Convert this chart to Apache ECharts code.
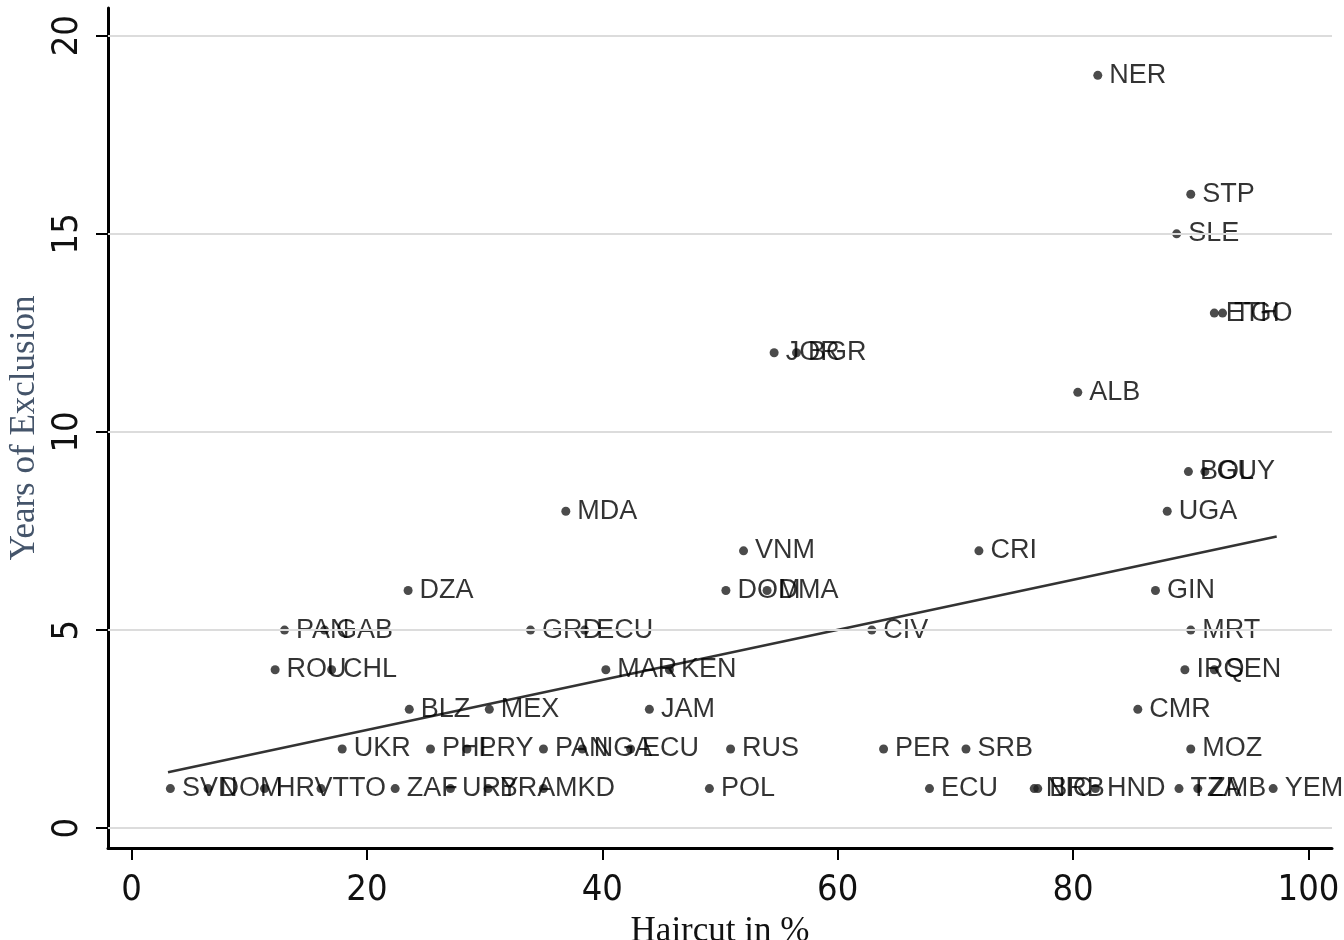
<!DOCTYPE html>
<html>
<head>
<meta charset="utf-8">
<style>html,body{margin:0;padding:0;background:#fff}#c{width:1344px;height:940px}</style>
<script src="https://cdn.jsdelivr.net/npm/echarts@6/dist/echarts.min.js"></script>
</head>
<body>
<div id="c"></div>
<script>
const countries = ['NER','STP','SLE','ETH','TGO','JOR','BGR','ALB','BOL','GUY','MDA','UGA','VNM','CRI','DZA','DOM','DMA','GIN','PAN','GAB','GRD','ECU','CIV','MRT','ROU','CHL','MAR','KEN','IRQ','SEN','BLZ','MEX','JAM','CMR','UKR','PHL','PRY','PAN','NGA','ECU','RUS','PER','SRB','MOZ','SVN','DOM','HRV','TTO','ZAF','URY','BRA','MKD','POL','ECU','NIC','BRB','HND','TZA','ZMB','YEM'];
const haircut = [82.1,90.0,88.8,92.0,92.7,54.6,56.5,80.4,89.8,91.2,36.9,88.0,52.0,72.0,23.5,50.5,54.0,87.0,13.0,16.4,33.9,38.5,62.9,90.0,12.2,17.0,40.3,45.7,89.5,92.0,23.6,30.4,44.0,85.5,17.9,25.4,28.5,35.0,38.3,42.4,50.9,63.9,70.9,90.0,3.3,6.5,11.3,16.1,22.4,27.1,30.3,35.0,49.1,67.8,76.7,77.0,81.9,89.0,90.6,97.0];
const years = [19,16,15,13,13,12,12,11,9,9,8,8,7,7,6,6,6,6,5,5,5,5,5,5,4,4,4,4,4,4,3,3,3,3,2,2,2,2,2,2,2,2,2,2,1,1,1,1,1,1,1,1,1,1,1,1,1,1,1,1];
const fitLine = [[3.1, 1.41], [97.3, 7.36]];
const xTicks = [0, 20, 40, 60, 80, 100];
const yTicks = [0, 5, 10, 15, 20];

const points = countries.map((n, i) => ({ name: n, value: [haircut[i], years[i]] }));
const tickFont = "'Liberation Sans Narrow','DejaVu Sans Condensed','Liberation Sans',Arial,sans-serif";
const titleFont = "'Liberation Serif','Times New Roman',serif";

const chart = echarts.init(document.getElementById('c'), null, { renderer: 'canvas' });
chart.setOption({
  animation: false,
  backgroundColor: '#fff',
  grid: { left: 108, right: 12, top: 8, bottom: 92, containLabel: false, outerBoundsMode: 'none' },
  xAxis: {
    type: 'value', min: -2, max: 102,
    name: 'Haircut in %', nameLocation: 'middle', nameGap: 60,
    nameTextStyle: { fontFamily: titleFont, fontSize: 35, color: '#111' },
    axisLine: { show: true, onZero: false, lineStyle: { color: '#000', width: 3 } },
    axisTick: { show: true, length: 12, inside: false, customValues: xTicks, lineStyle: { color: '#000', width: 2 } },
    axisLabel: { customValues: xTicks, margin: 25, fontFamily: tickFont, fontSize: 36, color: '#111' },
    splitLine: { show: false }
  },
  yAxis: {
    type: 'value', min: -0.5, max: 20.7,
    name: 'Years of Exclusion', nameLocation: 'middle', nameGap: 56,
    nameTextStyle: { fontFamily: titleFont, fontSize: 35, color: '#44546a' },
    axisLine: { show: true, onZero: false, lineStyle: { color: '#000', width: 3 } },
    axisTick: { show: true, length: 12, inside: false, customValues: yTicks, lineStyle: { color: '#000', width: 2 } },
    axisLabel: { customValues: yTicks, rotate: 90, margin: 22, fontFamily: tickFont, fontSize: 36, color: '#111' },
    splitLine: { show: false }
  },
  series: [
    {
      type: 'line', data: [], silent: true, z: 1,
      markLine: {
        silent: true, symbol: 'none', label: { show: false },
        lineStyle: { color: '#dcdcdc', width: 2, type: 'solid' },
        data: yTicks.map(v => ({ yAxis: v }))
      }
    },
    {
      type: 'line', data: fitLine, showSymbol: false, symbol: 'none', z: 3,
      lineStyle: { color: '#333', width: 2.5 }
    },
    {
      type: 'scatter', data: points, symbol: 'circle', symbolSize: 9, z: 4,
      itemStyle: { color: '#1e1e1e' },
      label: {
        show: true, position: 'right', distance: 7,
        formatter: p => p.name,
        fontFamily: "'Liberation Sans',Arial,sans-serif", fontSize: 27, color: '#000'
      },
      labelLayout: { hideOverlap: false }
    }
  ]
});
</script>
</body>
</html>
